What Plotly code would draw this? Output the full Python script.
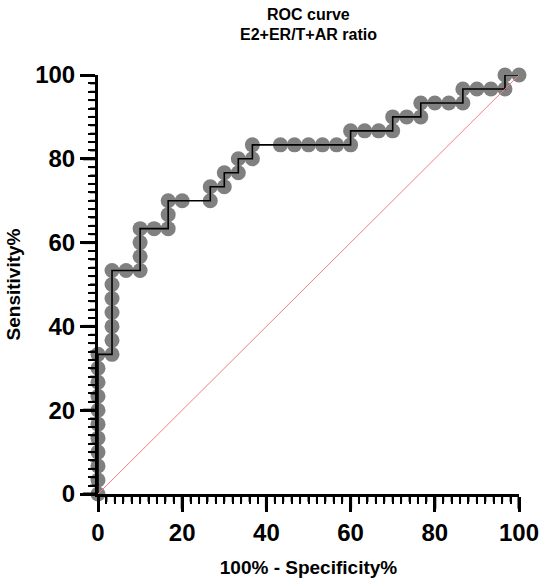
import plotly.graph_objects as go

# ROC curve points (100% - Specificity%, Sensitivity%)
fpr = [0, 0, 0, 0, 0, 0, 0, 0, 0, 0, 0,
       3.33, 3.33, 3.33, 3.33, 3.33, 3.33, 3.33,
       6.67,
       10, 10, 10, 10,
       13.33,
       16.67, 16.67, 16.67,
       20,
       26.67, 26.67,
       30, 30,
       33.33, 33.33,
       36.67, 36.67,
       43.33, 46.67, 50, 53.33, 56.67, 60,
       60, 63.33, 66.67,
       70, 70,
       73.33,
       76.67, 76.67,
       80, 83.33,
       86.67, 86.67,
       90, 93.33,
       96.67, 96.67,
       100]
tpr = [0, 3.33, 6.67, 10, 13.33, 16.67, 20, 23.33, 26.67, 30, 33.33,
       33.33, 36.67, 40, 43.33, 46.67, 50, 53.33,
       53.33,
       53.33, 56.67, 60, 63.33,
       63.33,
       63.33, 66.67, 70,
       70,
       70, 73.33,
       73.33, 76.67,
       76.67, 80,
       80, 83.33,
       83.33, 83.33, 83.33, 83.33, 83.33, 83.33,
       86.67, 86.67, 86.67,
       86.67, 90,
       90,
       90, 93.33,
       93.33, 93.33,
       93.33, 96.67,
       96.67, 96.67,
       96.67, 100,
       100]

ref_x = [0, 100]
ref_y = [0, 100]

major_ticks = [0, 20, 40, 60, 80, 100]
minor_ticks = [v for v in range(0, 101, 2) if v % 20 != 0]

title_lines = ["ROC curve", "E2+ER/T+AR ratio"]
x_title = "100% - Specificity%"
y_title = "Sensitivity%"

FONT = "Liberation Sans, Arial, Helvetica, sans-serif"
W, H = 551, 587
ML, MR, MT, MB = 98, 28, 75, 85
PW, PH = W - ML - MR, H - MT - MB

fig = go.Figure()
fig.add_trace(go.Scatter(x=fpr, y=tpr, mode="markers",
                         marker=dict(size=15, color="#808080", line=dict(width=0)),
                         cliponaxis=False, hoverinfo="skip", showlegend=False))
fig.add_trace(go.Scatter(x=fpr, y=tpr, mode="lines",
                         line=dict(color="black", width=1.6),
                         showlegend=False))
fig.add_trace(go.Scatter(x=ref_x, y=ref_y, mode="lines",
                         line=dict(color="#f08080", width=1),
                         hoverinfo="skip", showlegend=False))

# axis tick marks drawn from the tick value lists (fallback for native ticks)
shapes = []
for v in major_ticks:
    shapes.append(dict(type="line", xref="x", yref="paper", x0=v, x1=v,
                       y0=0, y1=-15 / PH, line=dict(color="black", width=3)))
    shapes.append(dict(type="line", xref="paper", yref="y", y0=v, y1=v,
                       x0=0, x1=-15 / PW, line=dict(color="black", width=3)))
for v in minor_ticks:
    shapes.append(dict(type="line", xref="x", yref="paper", x0=v, x1=v,
                       y0=0, y1=-8 / PH, line=dict(color="black", width=2)))
    shapes.append(dict(type="line", xref="paper", yref="y", y0=v, y1=v,
                       x0=0, x1=-8 / PW, line=dict(color="black", width=2)))

axis_base = dict(range=[0, 100], showgrid=False, zeroline=False,
                 showline=True, linecolor="black", linewidth=3,
                 ticks="outside", ticklen=15, tickwidth=3, tickcolor="black",
                 tickmode="linear", tick0=0, dtick=20,
                 tickfont=dict(family=FONT, size=24, color="black", weight="bold"),
                 minor=dict(ticks="outside", ticklen=7, tickwidth=2,
                            tickcolor="black", dtick=2))

fig.update_layout(
    width=W, height=H,
    margin=dict(l=ML, r=MR, t=MT, b=MB),
    paper_bgcolor="white", plot_bgcolor="white",
    xaxis=dict(**axis_base,
               title=dict(text="<b>" + x_title + "</b>", standoff=16,
                          font=dict(family=FONT, size=19, color="black"))),
    yaxis=dict(**axis_base,
               title=dict(text="<b>" + y_title + "</b>", standoff=10,
                          font=dict(family=FONT, size=19, color="black"))),
    shapes=shapes,
    annotations=[
        dict(text="<b>" + title_lines[0] + "</b>", x=0.5, xref="paper",
             y=1 + 62 / PH, yref="paper", yanchor="middle", showarrow=False,
             font=dict(family=FONT, size=16, color="black")),
        dict(text="<b>" + title_lines[1] + "</b>", x=0.5, xref="paper",
             y=1 + 41 / PH, yref="paper", yanchor="middle", showarrow=False,
             font=dict(family=FONT, size=16, color="black")),
    ],
)

fig.write_html("out.html")
